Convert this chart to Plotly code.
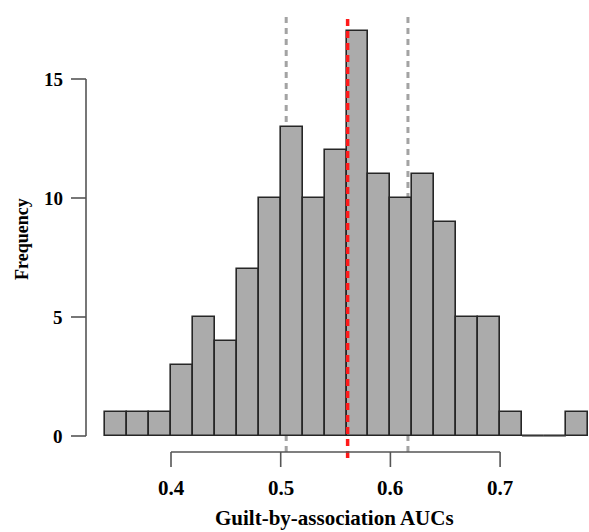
import plotly.graph_objects as go

# ---- data ----
bin_starts = [0.34, 0.36, 0.38, 0.40, 0.42, 0.44, 0.46, 0.48, 0.50, 0.52, 0.54,
              0.56, 0.58, 0.60, 0.62, 0.64, 0.66, 0.68, 0.70, 0.72, 0.74, 0.76]
counts = [1, 1, 1, 3, 5, 4, 7, 10, 13, 10, 12, 17, 11, 10, 11, 9, 5, 5, 1, 0, 0, 1]
bin_width = 0.02
x_ticks = [0.4, 0.5, 0.6, 0.7]
x_tick_labels = ["0.4", "0.5", "0.6", "0.7"]
y_ticks = [0, 5, 10, 15]
y_tick_labels = ["0", "5", "10", "15"]
ci_lines = [0.505, 0.616]
median_line = 0.561
x_title = "Guilt-by-association AUCs"
y_title = "Frequency"

# ---- geometry (pixel scale of the reference) ----
W, H = 589, 532
PX_PER_X = 1097.0      # pixels per 1.0 on x
X0_PX = 171.0          # pixel of x=0.4
PX_PER_Y = 23.8        # pixels per count
Y0_PX = 436.0          # pixel of y=0

def xd(px):
    return 0.4 + (px - X0_PX) / PX_PER_X

def yd(py):
    return (Y0_PX - py) / PX_PER_Y

FONT = "Liberation Serif"
AX_COL = "#555555"

fig = go.Figure()
fig.add_trace(go.Bar(
    x=[b + bin_width / 2 for b in bin_starts], y=counts, width=bin_width,
    marker=dict(color="#ababab", line=dict(color="#262626", width=1.6)),
    hoverinfo="x+y", showlegend=False))

shapes = []
# zero-count bins baseline
for b, c in zip(bin_starts, counts):
    if c == 0:
        shapes.append(dict(type="line", xref="x", yref="y", x0=b, x1=b + bin_width,
                           y0=0, y1=0, line=dict(color="#444444", width=1.2)))
# gray dashed interval lines (behind bars)
for v in ci_lines:
    shapes.append(dict(type="line", xref="x", yref="y", x0=v, x1=v, y0=yd(452), y1=yd(15),
                       layer="below", line=dict(color="#a3a3a3", width=3, dash="6px,5px")))
# red median line (on top)
shapes.append(dict(type="line", xref="x", yref="y", x0=median_line, x1=median_line,
                   y0=yd(458), y1=yd(15), layer="above",
                   line=dict(color="#ff1a1a", width=3.5, dash="7px,5px")))
# y axis
shapes.append(dict(type="line", xref="x", yref="y", x0=xd(86), x1=xd(86),
                   y0=y_ticks[0], y1=y_ticks[-1], line=dict(color=AX_COL, width=1.6)))
for t in y_ticks:
    shapes.append(dict(type="line", xref="x", yref="y", x0=xd(71), x1=xd(86),
                       y0=t, y1=t, line=dict(color=AX_COL, width=1.6)))
# x axis
shapes.append(dict(type="line", xref="x", yref="y", x0=x_ticks[0], x1=x_ticks[-1],
                   y0=yd(452), y1=yd(452), line=dict(color=AX_COL, width=1.6)))
for t in x_ticks:
    shapes.append(dict(type="line", xref="x", yref="y", x0=t, x1=t,
                       y0=yd(452), y1=yd(467), line=dict(color=AX_COL, width=1.6)))

annotations = []
for t, lab in zip(y_ticks, y_tick_labels):
    annotations.append(dict(x=xd(65), y=t, xref="x", yref="y", text=lab, showarrow=False,
                            xanchor="right", yanchor="middle",
                            font=dict(family=FONT, size=19, color="black", weight="bold")))
for t, lab in zip(x_ticks, x_tick_labels):
    annotations.append(dict(x=t, y=yd(488), xref="x", yref="y", text=lab, showarrow=False,
                            xanchor="center", yanchor="middle",
                            font=dict(family=FONT, size=21, color="black", weight="bold")))
annotations.append(dict(x=xd(334), y=yd(518), xref="x", yref="y", text=x_title,
                        showarrow=False, xanchor="center", yanchor="middle",
                        font=dict(family=FONT, size=21, color="black", weight="bold")))
annotations.append(dict(x=xd(22), y=yd(239), xref="x", yref="y", text=y_title,
                        showarrow=False, textangle=-90, xanchor="center", yanchor="middle",
                        font=dict(family=FONT, size=18, color="black", weight="bold")))

fig.update_layout(
    width=W, height=H,
    margin=dict(l=0, r=0, t=0, b=0),
    paper_bgcolor="white", plot_bgcolor="white",
    xaxis=dict(range=[xd(0), xd(W)], visible=False, fixedrange=True),
    yaxis=dict(range=[yd(H), yd(0)], visible=False, fixedrange=True),
    shapes=shapes, annotations=annotations, bargap=0, showlegend=False,
)
fig.write_html("out.html", config={"displayModeBar": False},
               post_script="document.body.style.margin='0';document.body.style.overflow='hidden';")
